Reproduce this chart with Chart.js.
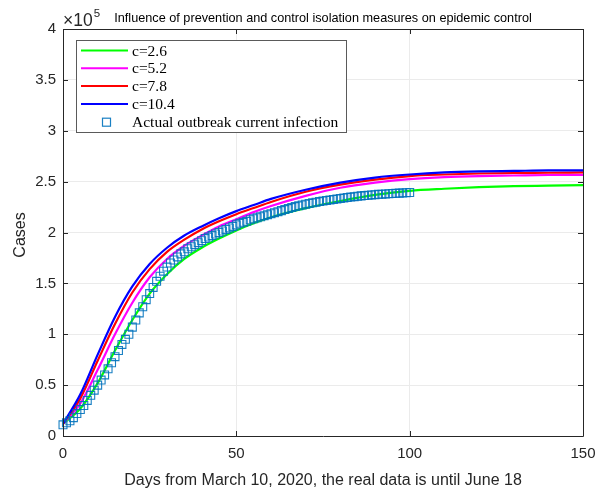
<!DOCTYPE html>
<html>
<head>
<meta charset="utf-8">
<script src="https://cdn.jsdelivr.net/npm/chart.js@4.4.1/dist/chart.umd.min.js"></script>
<style>
    html, body { margin: 0; padding: 0; background: #fff; }
    #wrap { width: 595px; height: 490px; }
</style>
</head>
<body>
<div id="wrap"><canvas id="myChart" width="595" height="490"></canvas></div>
<script>
// values are in units of 10^5 cases
let days = [0, 5, 10, 15, 20, 25, 30, 35, 40, 45, 50, 55, 60, 70, 80, 90, 100, 110, 120, 130, 140, 150];

let c26 = [0.12, 0.27, 0.52, 0.84, 1.14, 1.40, 1.59, 1.74, 1.85, 1.94, 2.02, 2.09, 2.15, 2.24, 2.31, 2.37, 2.41, 2.43, 2.445, 2.455, 2.46, 2.465];
let c52 = [0.12, 0.32, 0.65, 1.00, 1.31, 1.56, 1.74, 1.87, 1.97, 2.06, 2.13, 2.20, 2.26, 2.36, 2.44, 2.49, 2.525, 2.545, 2.555, 2.56, 2.565, 2.567];
let c78 = [0.12, 0.37, 0.74, 1.10, 1.41, 1.64, 1.81, 1.93, 2.03, 2.11, 2.18, 2.24, 2.30, 2.40, 2.47, 2.52, 2.555, 2.57, 2.58, 2.585, 2.587, 2.59];
let c104 = [0.12, 0.41, 0.80, 1.17, 1.47, 1.69, 1.85, 1.97, 2.06, 2.14, 2.21, 2.27, 2.33, 2.42, 2.49, 2.54, 2.57, 2.59, 2.60, 2.605, 2.61, 2.61];

// actual data, one value per day from day 0 to day 100
let actual = [
    0.11, 0.13, 0.15, 0.18, 0.22, 0.26, 0.30, 0.35, 0.40, 0.45,
    0.50, 0.55, 0.60, 0.66, 0.72, 0.78, 0.84, 0.90, 0.95, 1.00,
    1.07, 1.14, 1.21, 1.27, 1.34, 1.40, 1.46, 1.52, 1.57, 1.62,
    1.66, 1.70, 1.73, 1.76, 1.79, 1.81, 1.84, 1.86, 1.88, 1.90,
    1.92, 1.94, 1.955, 1.97, 1.985, 2.00, 2.015, 2.03, 2.045, 2.06,
    2.075, 2.09, 2.10, 2.11, 2.125, 2.135, 2.145, 2.155, 2.165, 2.175,
    2.185, 2.195, 2.205, 2.215, 2.225, 2.235, 2.245, 2.255, 2.262, 2.27,
    2.278, 2.285, 2.292, 2.298, 2.304, 2.31, 2.315, 2.32, 2.325, 2.33,
    2.335, 2.34, 2.344, 2.348, 2.352, 2.356, 2.36, 2.363, 2.366, 2.369,
    2.372, 2.375, 2.377, 2.379, 2.381, 2.383, 2.385, 2.387, 2.389, 2.391,
    2.393
];

let xTicks = [0, 50, 100, 150];
let yTicks = [0, 0.5, 1, 1.5, 2, 2.5, 3, 3.5, 4];

let titleText = 'Influence of prevention and control isolation measures on epidemic control';
let xTitle = 'Days from March 10, 2020, the real data is until June 18';
let yTitle = 'Cases';

function toPoints(xs, ys) {
    return ys.map(function(v, i) { return {x: xs[i], y: v}; });
}

function lineSet(label, ys, color, order) {
    return {
        label: label,
        data: toPoints(days, ys),
        showLine: true,
        borderColor: color,
        backgroundColor: color,
        borderWidth: 2.2,
        pointRadius: 0,
        cubicInterpolationMode: 'monotone',
        order: order
    };
}

// box, inward ticks, titles, exponent and legend like the matlab figure
const matlabLook = {
    id: 'matlabLook',
    afterDraw(chart) {
        const ctx = chart.ctx;
        const a = chart.chartArea;
        const xs = chart.scales.x, ys = chart.scales.y;
        ctx.save();
        ctx.strokeStyle = '#262626';
        ctx.lineWidth = 1;
        ctx.beginPath();
        ctx.rect(Math.round(a.left) + 0.5, Math.round(a.top) + 0.5, Math.round(a.right - a.left), Math.round(a.bottom - a.top));
        let tl = 5;
        xTicks.forEach(function(t) {
            let px = Math.round(xs.getPixelForValue(t)) + 0.5;
            ctx.moveTo(px, a.bottom); ctx.lineTo(px, a.bottom - tl);
            ctx.moveTo(px, a.top); ctx.lineTo(px, a.top + tl);
        });
        yTicks.forEach(function(t) {
            let py = Math.round(ys.getPixelForValue(t)) + 0.5;
            ctx.moveTo(a.left, py); ctx.lineTo(a.left + tl, py);
            ctx.moveTo(a.right, py); ctx.lineTo(a.right - tl, py);
        });
        ctx.stroke();

        // title
        ctx.fillStyle = '#000';
        ctx.font = '12.7px "Liberation Sans", Arial, sans-serif';
        ctx.textAlign = 'center';
        ctx.textBaseline = 'alphabetic';
        ctx.fillText(titleText, (a.left + a.right) / 2, 22);

        // exponent
        ctx.fillStyle = '#262626';
        ctx.textAlign = 'left';
        ctx.font = '17.5px "Liberation Sans", Arial, sans-serif';
        ctx.fillText('\u00d710', 63, 26);
        let w = ctx.measureText('\u00d710').width;
        ctx.font = '11.5px "Liberation Sans", Arial, sans-serif';
        ctx.fillText('5', 63 + w + 1, 17);

        // axis titles
        ctx.font = '16px "Liberation Sans", Arial, sans-serif';
        ctx.textAlign = 'center';
        ctx.fillText(xTitle, (a.left + a.right) / 2, 485);
        ctx.save();
        ctx.translate(21, 235);
        ctx.rotate(-Math.PI / 2);
        ctx.textBaseline = 'middle';
        ctx.fillText(yTitle, 0, 0);
        ctx.restore();

        // legend
        let lx = 76.5, ly = 40.5, lw = 270, lh = 92;
        ctx.fillStyle = '#fff';
        ctx.fillRect(lx, ly, lw, lh);
        ctx.strokeStyle = '#5a5a5a';
        ctx.lineWidth = 1;
        ctx.strokeRect(lx, ly, lw, lh);
        ctx.font = '15.5px "Liberation Serif", "Times New Roman", serif';
        ctx.textAlign = 'left';
        ctx.textBaseline = 'middle';
        chart.data.datasets.forEach(function(ds, i) {
            let rowY = 50.5 + i * 17.8;
            if (ds.showLine) {
                ctx.strokeStyle = ds.borderColor;
                ctx.lineWidth = 2;
                ctx.beginPath();
                ctx.moveTo(81, rowY); ctx.lineTo(128, rowY);
                ctx.stroke();
            } else {
                ctx.strokeStyle = ds.borderColor;
                ctx.lineWidth = 1.2;
                ctx.strokeRect(102.5, rowY - 3.5, 8, 8);
            }
            ctx.fillStyle = '#000';
            ctx.fillText(ds.label, 132, rowY + 1);
        });
        ctx.restore();
    }
};

let ctx = document.getElementById('myChart').getContext('2d');
let myChart = new Chart(ctx, {
    type: 'scatter',
    data: {
        datasets: [
            lineSet('c=2.6', c26, '#00ff00', 5),
            lineSet('c=5.2', c52, '#ff00ff', 4),
            lineSet('c=7.8', c78, '#ff0000', 3),
            lineSet('c=10.4', c104, '#0000ff', 2),
            {
                label: 'Actual outbreak current infection',
                data: actual.map(function(v, i) { return {x: i, y: v}; }),
                showLine: false,
                pointStyle: 'rect',
                pointRadius: 5.6,
                pointBorderWidth: 1.1,
                borderColor: 'rgba(0, 114, 189, 0.9)',
                backgroundColor: 'rgba(0, 0, 0, 0)',
                pointBackgroundColor: 'rgba(0, 0, 0, 0)',
                clip: false,
                order: 1
            }
        ]
    },
    options: {
        responsive: false,
        animation: false,
        events: [],
        layout: { padding: { top: 29, right: 12, left: 0, bottom: 0 } },
        plugins: {
            legend: { display: false },
            tooltip: { enabled: false },
            title: { display: false }
        },
        scales: {
            x: {
                type: 'linear',
                min: 0,
                max: 150,
                afterBuildTicks: function(scale) {
                    scale.ticks = xTicks.map(function(v) { return {value: v}; });
                },
                afterFit: function(scale) {
                    scale.height = 54;
                    scale.paddingLeft = 0;
                    scale.paddingRight = 0;
                },
                grid: { color: '#ebebeb', lineWidth: 1, drawTicks: false },
                border: { display: false },
                ticks: {
                    autoSkip: false,
                    maxRotation: 0,
                    padding: 9,
                    color: '#262626',
                    font: { family: '"Liberation Sans", Arial, sans-serif', size: 15 },
                    callback: function(v) { return String(v); }
                }
            },
            y: {
                type: 'linear',
                min: 0,
                max: 4,
                afterBuildTicks: function(scale) {
                    scale.ticks = yTicks.map(function(v) { return {value: v}; });
                },
                afterFit: function(scale) {
                    scale.width = 63;
                    scale.paddingTop = 0;
                    scale.paddingBottom = 0;
                },
                grid: { color: '#ebebeb', lineWidth: 1, drawTicks: false },
                border: { display: false },
                ticks: {
                    autoSkip: false,
                    padding: 7,
                    color: '#262626',
                    font: { family: '"Liberation Sans", Arial, sans-serif', size: 15 },
                    callback: function(v) { return String(v); }
                }
            }
        }
    },
    plugins: [matlabLook]
});
</script>
</body>
</html>
